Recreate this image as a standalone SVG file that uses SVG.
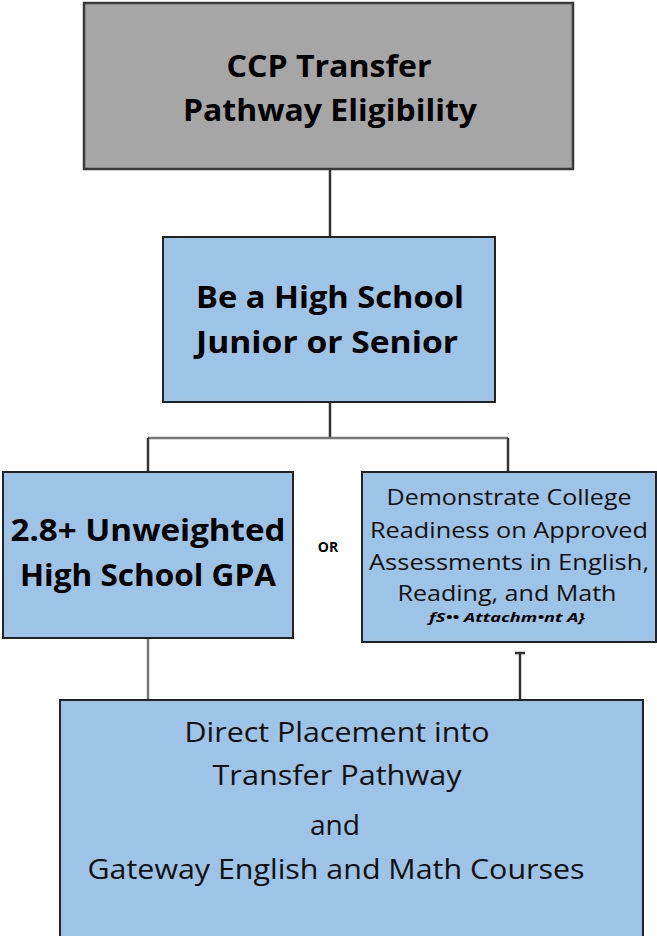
<svg xmlns="http://www.w3.org/2000/svg" width="657" height="936" viewBox="0 0 657 936">
<style>
.box{fill:#9dc3e6;stroke:#222;stroke-width:2}
.gray{fill:#a6a6a6;stroke:#3a3a3a;stroke-width:2.5}
.b{font-family:"Open Sans","Liberation Sans",sans-serif;font-weight:bold;fill:#000;text-anchor:middle}
.r{font-family:"Open Sans","Liberation Sans",sans-serif;fill:#111;text-anchor:middle}
.c{stroke:#333;stroke-width:2.5;fill:none}
.h{stroke:#777;stroke-width:2.5;fill:none}
</style>
<rect width="657" height="936" fill="#fff"/>
<g id="connectors">
<line class="c" x1="330" y1="168" x2="330" y2="237"/>
<line class="c" x1="330" y1="392" x2="330" y2="438"/>
<line class="h" x1="148" y1="438" x2="508" y2="438"/>
<line class="c" x1="148" y1="438" x2="148" y2="472"/>
<line class="c" x1="508" y1="438" x2="508" y2="472"/>
<line class="h" x1="148" y1="638" x2="148" y2="700"/>
<line class="c" x1="520" y1="652" x2="520" y2="699"/>
<line class="c" x1="515" y1="653" x2="525" y2="653"/>
</g>
<g id="n1">
<rect class="gray" x="84" y="3" width="489" height="166"/>
<text class="b" x="329" y="77" font-size="31" textLength="205" lengthAdjust="spacingAndGlyphs">CCP Transfer</text>
<text class="b" x="330" y="121" font-size="31" textLength="294" lengthAdjust="spacingAndGlyphs">Pathway Eligibility</text>
</g>
<g id="n2">
<rect class="box" x="163" y="237" width="332" height="165"/>
<text class="b" x="330" y="308" font-size="31" textLength="268" lengthAdjust="spacingAndGlyphs">Be a High School</text>
<text class="b" x="327" y="353" font-size="31" textLength="262" lengthAdjust="spacingAndGlyphs">Junior or Senior</text>
</g>
<g id="n3">
<rect class="box" x="3" y="472" width="290" height="166"/>
<text class="b" x="148" y="541" font-size="31" textLength="275" lengthAdjust="spacingAndGlyphs">2.8+ Unweighted</text>
<text class="b" x="148" y="586" font-size="31" textLength="256" lengthAdjust="spacingAndGlyphs">High School GPA</text>
</g>
<text class="b" x="328" y="552" font-size="14" font-family="Liberation Sans">OR</text>
<g id="n4">
<rect class="box" x="362" y="472" width="294" height="170"/>
<text class="r" x="509" y="505" font-size="22" textLength="245" lengthAdjust="spacingAndGlyphs">Demonstrate College</text>
<text class="r" x="509" y="538" font-size="22" textLength="278" lengthAdjust="spacingAndGlyphs">Readiness on Approved</text>
<text class="r" x="509" y="570" font-size="22" textLength="280" lengthAdjust="spacingAndGlyphs">Assessments in English,</text>
<text class="r" x="507" y="601" font-size="22" textLength="219" lengthAdjust="spacingAndGlyphs">Reading, and Math</text>
<text class="b" x="507" y="622" font-size="12" font-style="italic" textLength="156" lengthAdjust="spacingAndGlyphs">fS•• Attachm•nt A}</text>
</g>
<g id="n5">
<rect class="box" x="60" y="700" width="583" height="240"/>
<text class="r" x="337" y="742" font-size="27" textLength="305" lengthAdjust="spacingAndGlyphs">Direct Placement into</text>
<text class="r" x="337" y="785" font-size="27" textLength="249" lengthAdjust="spacingAndGlyphs">Transfer Pathway</text>
<text class="r" x="335" y="835" font-size="27" textLength="50" lengthAdjust="spacingAndGlyphs">and</text>
<text class="r" x="336" y="879" font-size="27" textLength="497" lengthAdjust="spacingAndGlyphs">Gateway English and Math Courses</text>
</g>
</svg>
